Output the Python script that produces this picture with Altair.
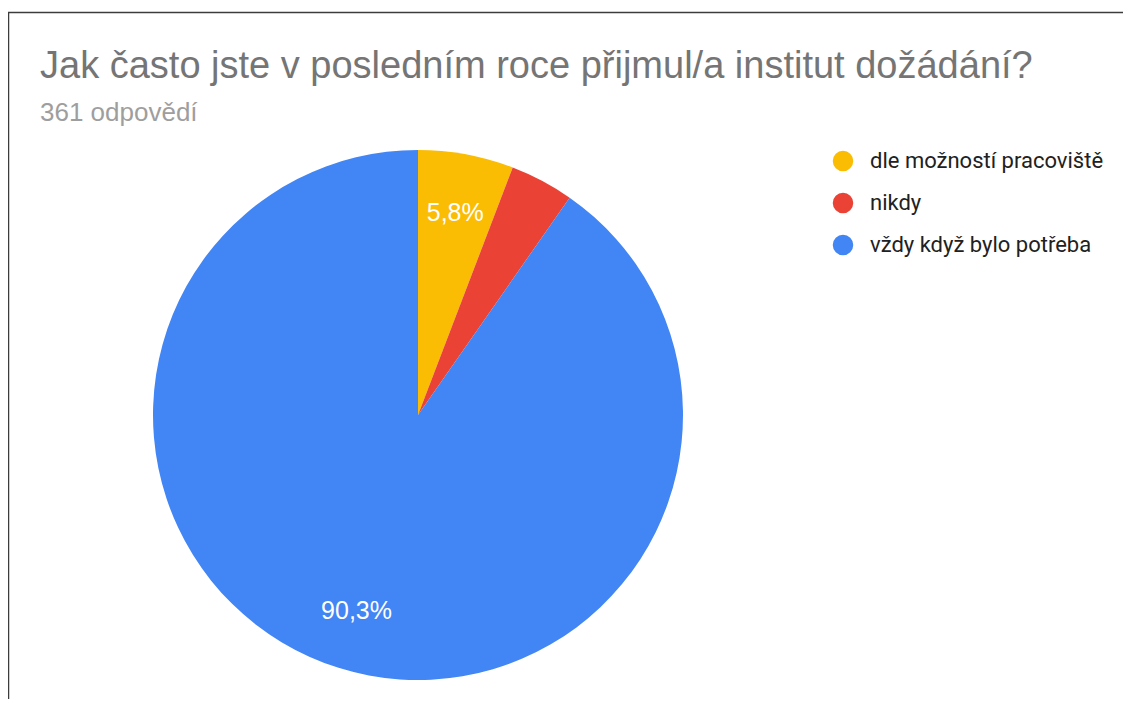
import altair as alt
import pandas as pd

categories = ["dle možností pracoviště", "nikdy", "vždy když bylo potřeba"]
counts = [21, 14, 326]
labels = ["5,8%", "", "90,3%"]
colors = ["#fbbc04", "#ea4335", "#4285f4"]

title_text = "Jak často jste v posledním roce přijmul/a institut dožádání?"
subtitle_text = "361 odpovědí"

df = pd.DataFrame({"kategorie": categories, "pocet": counts,
                   "label": labels, "poradi": list(range(len(categories)))})

W, H = 1115, 691
CX, CY, R = 410, 407, 265

base = alt.Chart(df).encode(
    theta=alt.Theta("pocet:Q", stack=True),
    order=alt.Order("poradi:Q"),
)

pie = base.mark_arc(outerRadius=R, stroke=None).encode(
    x=alt.value(CX), y=alt.value(CY),
    color=alt.Color(
        "kategorie:N",
        scale=alt.Scale(domain=categories, range=colors),
        sort=categories,
        legend=alt.Legend(
            title=None, orient="none", legendX=824, legendY=142,
            symbolType="circle", symbolSize=420, symbolStrokeWidth=0,
            labelFont="Roboto", labelFontSize=22, labelColor="#212121",
            labelOffset=16, rowPadding=20, labelLimit=400,
        ),
    ),
)

txt = base.mark_text(radius=205, font="Liberation Sans", fontSize=25,
                     color="white", align="center", baseline="middle").encode(
    x=alt.value(CX), y=alt.value(CY), text="label:N"
)

one = alt.Data(values=[{"a": 1}])

border_top = alt.Chart(one).mark_rule(color="#3c3c3c", strokeWidth=1.5).encode(
    x=alt.value(0), x2=alt.value(W), y=alt.value(4.5)
)
border_left = alt.Chart(one).mark_rule(color="#3c3c3c", strokeWidth=1.5).encode(
    x=alt.value(0.5), y=alt.value(4.5), y2=alt.value(H)
)

title = alt.Chart(one).mark_text(
    text=title_text, font="Liberation Sans", fontSize=38, color="#757575",
    align="left", baseline="alphabetic"
).encode(x=alt.value(32), y=alt.value(70))

subtitle = alt.Chart(one).mark_text(
    text=subtitle_text, font="Liberation Sans", fontSize=26, color="#9e9e9e",
    align="left", baseline="alphabetic"
).encode(x=alt.value(32), y=alt.value(113))

chart = alt.layer(border_top, border_left, title, subtitle, pie, txt).properties(
    width=W, height=H,
    autosize=alt.AutoSizeParams(type="none"),
    padding=0,
).configure_view(stroke=None)

chart.save("out.html", embed_options={"renderer": "svg", "actions": False})
